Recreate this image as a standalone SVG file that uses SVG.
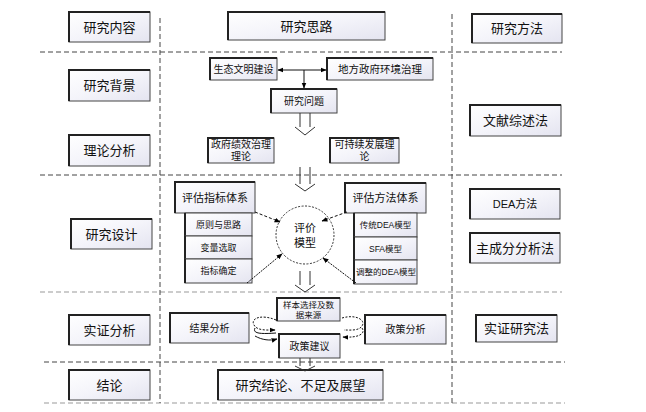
<svg xmlns="http://www.w3.org/2000/svg" width="646" height="412" viewBox="0 0 646 412">
<defs>
<linearGradient id="g" x1="0" y1="0" x2="1" y2="1">
<stop offset="0" stop-color="#ffffff"/>
<stop offset="0.5" stop-color="#f4f4fa"/>
<stop offset="1" stop-color="#e4e4f0"/>
</linearGradient>
<marker id="ah" viewBox="0 0 10 10" refX="9" refY="5" markerWidth="6" markerHeight="6" orient="auto-start-reverse">
<path d="M0 1 L10 5 L0 9 Z" fill="#000"/>
</marker>
</defs>
<style>
text{font-family:"Liberation Sans","Noto Sans CJK SC",sans-serif;fill:#111;text-anchor:middle;dominant-baseline:central}
.b{fill:url(#g);stroke:#444;stroke-width:1}
.sh{stroke:#222;stroke-width:2;fill:none}
.dl{stroke:#444;stroke-width:1;stroke-dasharray:5,3;fill:none}
.dlg{stroke:#999;stroke-width:1;stroke-dasharray:5,3;fill:none}
.ln{stroke:#111;stroke-width:1;fill:none}
.ha{stroke:#333;stroke-width:1;fill:none}
.t13{font-size:13px}
.t11{font-size:11px}
.t105{font-size:10.5px}
.t10{font-size:10px}
.t9{font-size:9px}
.t85{font-size:8.5px}
</style>
<rect width="646" height="412" fill="#fff"/>

<g id="grid">
<path class="dl" d="M40 52 H562"/>
<path class="dl" d="M40 175 H562"/>
<path class="dlg" d="M40 292 H562"/>
<path class="dl" d="M44 362 H565"/>
<path class="dlg" d="M44 403 H565"/>
<path class="dl" d="M160 18 V403"/>
<path class="dl" d="M452 14 V403"/>
</g>

<g id="h1"><rect class="b" x="69" y="12" width="81" height="30"/><path class="sh" d="M69 42 V12 H150"/><text class="t13" x="109.5" y="27">研究内容</text></g>
<g id="h2"><rect class="b" x="228" y="12" width="157" height="28"/><path class="sh" d="M228 40 V12 H385"/><text class="t13" x="306.5" y="26">研究思路</text></g>
<g id="h3"><rect class="b" x="472" y="14" width="90" height="29"/><path class="sh" d="M472 43 V14 H562"/><text class="t13" x="517" y="28.5">研究方法</text></g>

<g id="l1"><rect class="b" x="69" y="70" width="81" height="31"/><path class="sh" d="M69 101 V70 H150"/><text class="t13" x="109.5" y="85.5">研究背景</text></g>
<g id="l2"><rect class="b" x="69" y="135" width="81" height="31"/><path class="sh" d="M69 166 V135 H150"/><text class="t13" x="109.5" y="150.5">理论分析</text></g>
<g id="l3"><rect class="b" x="71" y="219" width="81" height="30"/><path class="sh" d="M71 249 V219 H152"/><text class="t13" x="111.5" y="234">研究设计</text></g>
<g id="l4"><rect class="b" x="69" y="315" width="81" height="30"/><path class="sh" d="M69 345 V315 H150"/><text class="t13" x="109.5" y="330">实证分析</text></g>
<g id="l5"><rect class="b" x="69" y="370" width="81" height="30"/><path class="sh" d="M69 400 V370 H150"/><text class="t13" x="109.5" y="385">结论</text></g>

<g id="r1"><rect class="b" x="470" y="105" width="91" height="31"/><path class="sh" d="M470 136 V105 H561"/><text class="t13" x="515.5" y="120.5">文献综述法</text></g>
<g id="r2"><rect class="b" x="470" y="189" width="90" height="30"/><path class="sh" d="M470 219 V189 H560"/><text class="t11" x="515" y="204">DEA方法</text></g>
<g id="r3"><rect class="b" x="470" y="233" width="90" height="30"/><path class="sh" d="M470 263 V233 H560"/><text class="t13" x="515" y="248">主成分分析法</text></g>
<g id="r4"><rect class="b" x="476" y="315" width="81" height="27"/><path class="sh" d="M476 342 V315 H557"/><text class="t13" x="516.5" y="328.5">实证研究法</text></g>

<g id="m1"><rect class="b" x="210" y="58" width="67" height="22"/><path class="sh" d="M210 80 V58 H277"/><text class="t10" x="243.5" y="69">生态文明建设</text></g>
<g id="m2"><rect class="b" x="327" y="58" width="106" height="22"/><path class="sh" d="M327 80 V58 H433"/><text class="t105" x="380" y="69">地方政府环境治理</text></g>
<g id="m3"><rect class="b" x="271" y="89" width="66" height="24"/><path class="sh" d="M271 113 V89 H337"/><text class="t10" x="304" y="101">研究问题</text></g>
<g id="m4"><rect class="b" x="208" y="138" width="66" height="25"/><path class="sh" d="M208 163 V138 H274"/><text class="t10" x="241" y="144.5">政府绩效治理</text><text class="t10" x="241" y="156.5">理论</text></g>
<g id="m5"><rect class="b" x="330" y="138" width="69" height="25"/><path class="sh" d="M330 163 V138 H399"/><text class="t10" x="364.5" y="144.5">可持续发展理</text><text class="t10" x="364.5" y="156.5">论</text></g>

<g id="m6"><rect class="b" x="175" y="182" width="80" height="31"/><path class="sh" d="M175 213 V182 H255"/><text class="t11" x="215" y="197.5">评估指标体系</text></g>
<g id="m6a"><rect class="b" x="185" y="213" width="67" height="23"/><path class="sh" d="M185 236 V213"/><text class="t9" x="218.5" y="224.5">原则与思路</text></g>
<g id="m6b"><rect class="b" x="185" y="236" width="67" height="23"/><path class="sh" d="M185 259 V236"/><text class="t9" x="218.5" y="247.5">变量选取</text></g>
<g id="m6c"><rect class="b" x="185" y="259" width="67" height="24"/><path class="sh" d="M185 283 V259"/><text class="t9" x="218.5" y="271">指标确定</text></g>

<g id="m7"><rect class="b" x="345" y="183" width="81" height="30"/><path class="sh" d="M345 213 V183 H426"/><text class="t11" x="385.5" y="198">评估方法体系</text></g>
<g id="m7a"><rect class="b" x="354" y="213" width="63" height="24"/><path class="sh" d="M354 237 V213"/><text class="t85" x="385.5" y="225">传统DEA模型</text></g>
<g id="m7b"><rect class="b" x="354" y="237" width="63" height="23"/><path class="sh" d="M354 260 V237"/><text class="t85" x="385.5" y="248.5">SFA模型</text></g>
<g id="m7c"><rect class="b" x="354" y="260" width="63" height="24"/><path class="sh" d="M354 284 V260"/><text class="t85" x="386" y="272">调整的DEA模型</text></g>

<g id="m8"><circle cx="305" cy="235" r="29" fill="#fff" stroke="#333" stroke-width="1" stroke-dasharray="2,1.5"/><text class="t11" x="305" y="228">评价</text><text class="t11" x="305" y="243">模型</text></g>

<g id="m9"><rect class="b" x="277" y="298" width="63" height="23"/><path class="sh" d="M277 321 V298 H340"/><text class="t85" x="308.5" y="304.5">样本选择及数</text><text class="t85" x="308.5" y="315">据来源</text></g>
<g id="m10"><rect class="b" x="170" y="313" width="79" height="30"/><path class="sh" d="M170 343 V313 H249"/><text class="t10" x="209.5" y="328">结果分析</text></g>
<g id="m11"><rect class="b" x="279" y="334" width="61" height="24"/><path class="sh" d="M279 358 V334 H340"/><text class="t10" x="309.5" y="346">政策建议</text></g>
<g id="m12"><rect class="b" x="365" y="315" width="81" height="29"/><path class="sh" d="M365 344 V315 H446"/><text class="t10" x="405.5" y="329.5">政策分析</text></g>
<g id="m13"><rect class="b" x="218" y="370" width="165" height="30"/><path class="sh" d="M218 400 V370 H383"/><text class="t13" x="300.5" y="385">研究结论、不足及展望</text></g>

<g id="connectors">
<path class="ln" d="M278 70 H326" marker-start="url(#ah)" marker-end="url(#ah)"/>
<path class="ln" d="M304 70 V88" marker-end="url(#ah)"/>
<path class="ha" d="M300 113 V127 M310 113 V127 M295 127 L305 135 L315 127"/>
<path class="ha" d="M300 167 V184 M310 167 V184 M295 184 L305 191 L315 184"/>
<path class="ha" d="M300 271 V285 M310 271 V285 M295 285 L305 292 L315 285"/>
<path class="ha" d="M300 358 V366 M310 358 V366 M295 366 L305 371 L315 366"/>
<path class="ln" d="M255 212 L280 222" stroke-dasharray="3,2" marker-end="url(#ah)"/>
<path class="ln" d="M347 212 L322 221" stroke-dasharray="3,2" marker-end="url(#ah)"/>
<path class="ln" d="M247 283 L282 254" stroke-dasharray="2,1" marker-end="url(#ah)"/>
<path class="ln" d="M356 283 L323 258" stroke-dasharray="2,1" marker-end="url(#ah)"/>
<path class="ln" d="M276 320 C262 314 250 318 254 325 C257 331 268 330 275 330" stroke-dasharray="2,1.5" marker-end="url(#ah)"/>
<path class="ln" d="M276 333 C262 334 252 334 255 328" />
<path class="ln" d="M255 336 C262 340 270 341 277 339" marker-end="url(#ah)"/>
<path class="ln" d="M342 318 C356 314 366 320 362 326 C359 331 350 330 344 330" stroke-dasharray="2,1.5"/>
<path class="ln" d="M362 328 C366 334 358 338 343 337" stroke-dasharray="2,1.5" marker-end="url(#ah)"/>
</g>
</svg>
